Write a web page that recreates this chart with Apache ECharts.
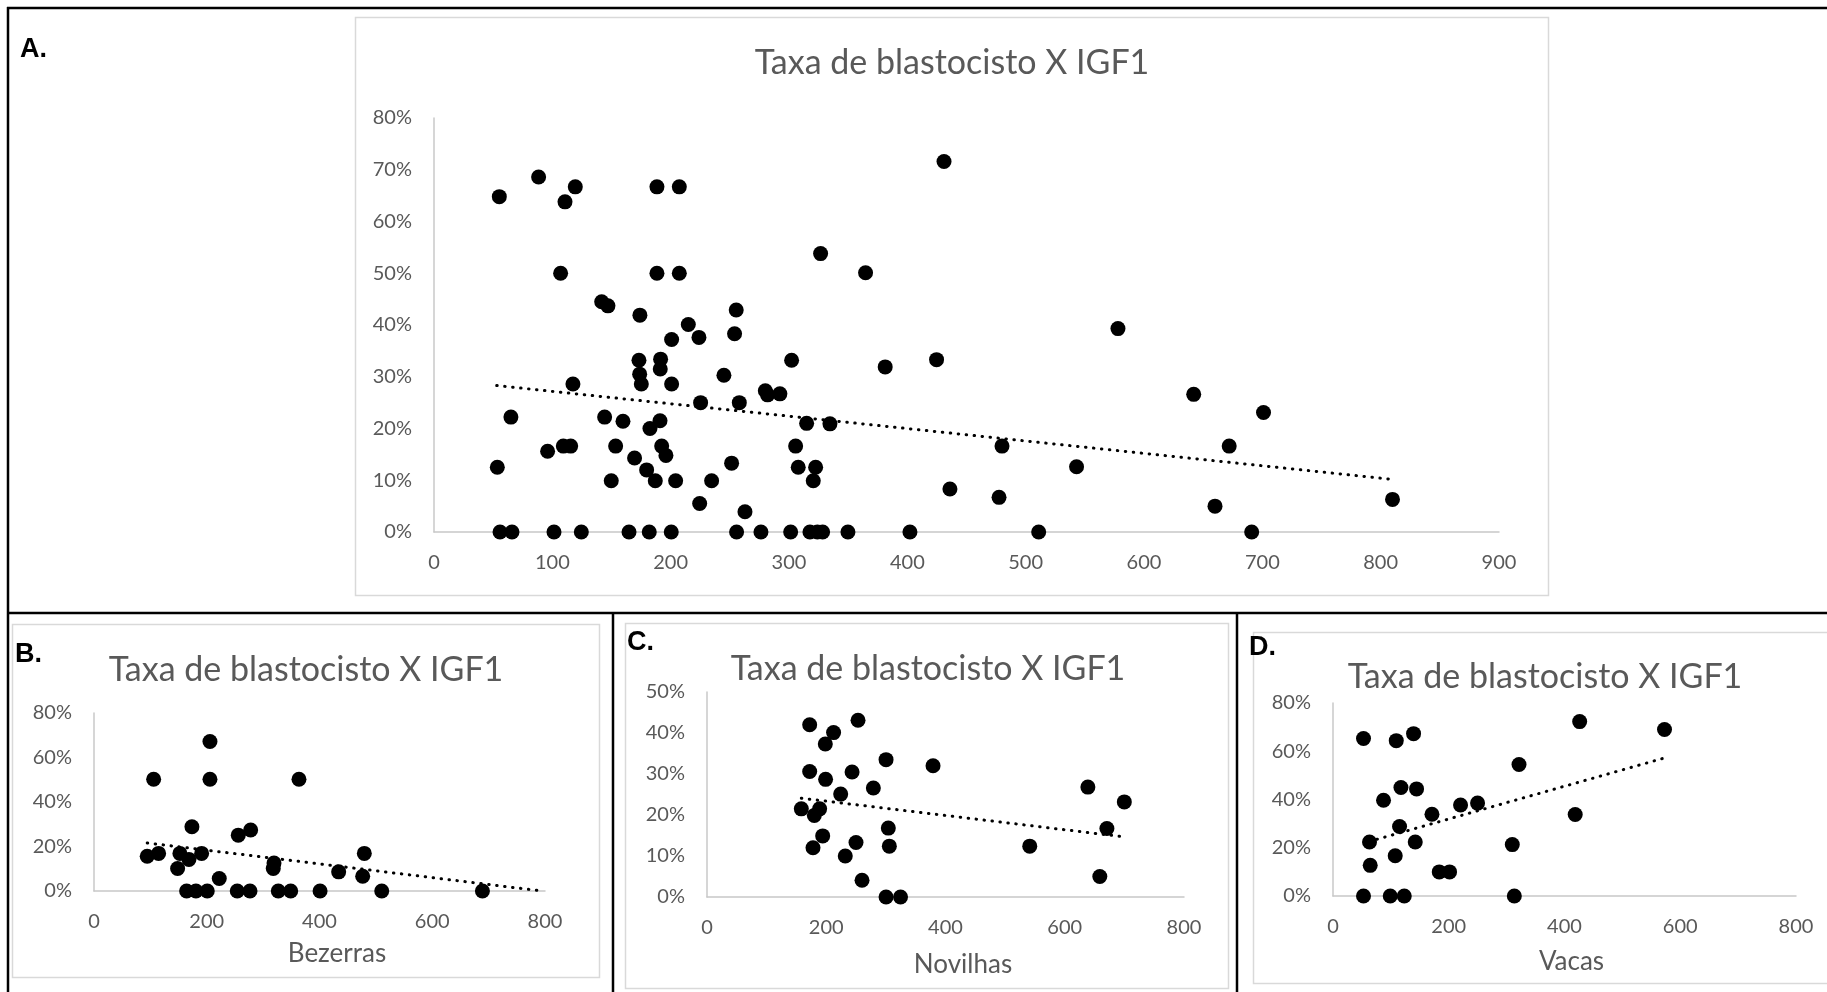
<!DOCTYPE html>
<html>
<head>
<meta charset="utf-8">
<script src="https://cdn.jsdelivr.net/npm/echarts@6/dist/echarts.min.js"></script>
<style>
html,body{margin:0;padding:0;background:#fff;}
#c{width:1827px;height:992px;}
</style>
</head>
<body>
<div id="c"></div>
<script>
// ---- DATA (IGF1 x, blastocyst rate %) ----
const tituloGrafico = 'Taxa de blastocisto X IGF1';
const paineis = ['A.', 'B.', 'C.', 'D.'];
const nomesEixoX = ['', 'Bezerras', 'Novilhas', 'Vacas'];

const todos = [
  [55.2,64.8],[88.4,68.6],[119.4,66.7],[110.7,63.8],[188.4,66.7],[207.3,66.7],[431,71.6],
  [107,50],[188.4,50],[207.3,50],[364.7,50.1],[326.7,53.8],
  [141.7,44.5],[147,43.7],[255.4,42.9],[174,41.9],[214.9,40.1],[578,39.3],
  [254,38.3],[200.8,37.2],[223.9,37.6],
  [173.2,33.2],[191.5,33.4],[302.2,33.2],[424.7,33.3],[191.2,31.5],[381.3,31.9],[173.8,30.5],[245,30.3],
  [175.2,28.6],[117.4,28.6],[200.8,28.6],[280,27.3],[281.9,26.5],[292.3,26.7],[642,26.6],
  [225.3,25],[258,25],[701,23.1],
  [65,22.2],[144.2,22.2],[159.7,21.4],[191,21.5],[314.9,21],[334.6,20.9],[182.5,20],
  [96,15.6],[109.3,16.6],[115.5,16.6],[153.5,16.6],[192.4,16.6],[305.6,16.6],[480,16.6],[672,16.6],
  [196,14.8],[169.5,14.3],[251.5,13.3],
  [53.5,12.5],[307.8,12.5],[322.5,12.5],[543,12.6],[179.7,12],
  [149.8,9.9],[187,9.9],[204.2,9.9],[234.6,9.9],[320.5,9.9],
  [436,8.3],[477.5,6.7],[810,6.3],[224.5,5.5],[660,5],[262.8,3.9],
  [55.8,0],[65.9,0],[101.4,0],[124.5,0],[164.8,0],[181.9,0],[200.5,0],[255.7,0],[276.3,0],
  [301.4,0],[317.7,0],[324,0],[328.4,0],[349.8,0],[402.2,0],[511,0],[691,0]
];
const bezerras = [
  [105.8,50.2],[205.7,67.2],[205.7,50.2],[363.6,50.2],[173.7,28.9],[255.9,25.1],[277.9,27.4],
  [94.4,15.6],[114.6,16.9],[152.4,16.9],[168.4,14.2],[190.9,16.9],[148.3,10.1],[222.2,5.6],
  [319.3,12.6],[318,10.1],[479.5,16.9],[434,8.6],[476.6,6.6],
  [164.3,0],[180.8,0],[200.9,0],[254.1,0],[276.7,0],[326.9,0],[348.9,0],[401,0],[510.4,0],[689,0]
];
const novilhas = [
  [172.2,42],[253.3,43.1],[212.3,40.1],[198.4,37.3],[300.3,33.5],[379.1,32],[172.2,30.6],[243.3,30.5],
  [198.9,28.7],[279,26.6],[224.2,25.1],[158.2,21.5],[188.9,21.5],[180,19.9],[194,14.9],[304.1,16.8],
  [177.8,12],[249.9,13.3],[305.8,12.4],[231.9,10],[260,4.1],[300.3,0],[324.6,0],
  [638.8,26.8],[699.9,23.2],[670.7,16.7],[541.3,12.4],[658.8,5]
];
const vacas = [
  [52.7,65.3],[109.3,64.4],[139.2,67.3],[426.2,72.3],[572.8,69],[321.4,54.5],[117.4,45],[144.4,44.4],
  [87.3,39.7],[220.4,37.7],[249.8,38.5],[171,33.9],[418.5,33.8],[115,28.8],[63.1,22.4],[142.1,22.4],
  [309.8,21.3],[107.5,16.7],[64.3,12.7],[183.6,10],[201.4,10],[52.7,0],[98.9,0],[123.1,0],[313.3,0]
];
// trend lines (end points)
const tendTodos = [[53,28.3],[808.5,10.2]];
const tendBezerras = [[94.4,21.6],[795,0]];
const tendNovilhas = [[158.2,24.1],[692,14.8]];
const tendVacas = [[75.9,23.5],[569.5,57]];
// axis ranges / tick steps
const xMax = [900, 800, 800, 800];
const xStep = [100, 200, 200, 200];
const yMax = [80, 80, 50, 80];
const yStep = [10, 20, 10, 20];

// ---- CHART ----
const chart = echarts.init(document.getElementById('c'), null, {renderer: 'canvas'});
const FONT = 'Lato, "Open Sans", sans-serif';
const GREY = '#595959';

const grids = [
  {left: 434, top: 118, width: 1065, height: 414},
  {left: 94, top: 713, width: 451, height: 178},
  {left: 707, top: 692, width: 477, height: 205},
  {left: 1333, top: 703, width: 463, height: 193}
];
const nameGaps = [0, 50, 55, 53];
const namePad = [0, 35, 35, 14];

const xAxes = grids.map((g, i) => ({
  gridIndex: i, type: 'value', min: 0, max: xMax[i], interval: xStep[i],
  name: nomesEixoX[i], nameLocation: 'middle', nameGap: nameGaps[i],
  nameTextStyle: {fontFamily: FONT, fontSize: 26, color: GREY, padding: [0, 0, 0, namePad[i]]},
  axisLine: {show: true, onZero: false, lineStyle: {color: '#c8c8c8', width: 1.5}},
  axisTick: {show: false}, splitLine: {show: false},
  axisLabel: {margin: 21, fontFamily: FONT, fontSize: 20, color: GREY}
}));
const yAxes = grids.map((g, i) => ({
  gridIndex: i, type: 'value', min: 0, max: yMax[i], interval: yStep[i],
  axisLine: {show: true, onZero: false, lineStyle: {color: '#c8c8c8', width: 1.5}},
  axisTick: {show: false}, splitLine: {show: false},
  axisLabel: {margin: 22, fontFamily: FONT, fontSize: 20, color: GREY, formatter: '{value}%'}
}));

const pontos = [todos, bezerras, novilhas, vacas];
const tends = [tendTodos, tendBezerras, tendNovilhas, tendVacas];
const series = [];
pontos.forEach((d, i) => {
  series.push({
    type: 'scatter', xAxisIndex: i, yAxisIndex: i, data: d,
    symbol: 'circle', symbolSize: 15, itemStyle: {color: '#000', opacity: 1}, silent: true, z: 3
  });
  series.push({
    type: 'line', xAxisIndex: i, yAxisIndex: i, data: tends[i],
    symbol: 'none', silent: true, z: 4,
    lineStyle: {color: '#000', width: 3, type: [0.5, 7.5], cap: 'round', opacity: 1}
  });
});

const frames = [
  [355, 17, 1193, 578],
  [12, 624, 587, 353],
  [625, 623, 603, 365],
  [1253, 632, 580, 351]
];
const titlePos = [[952, 63], [306, 670], [928, 669], [1545, 677]];
const panelPos = [[20, 50], [15, 655], [627, 643], [1249, 648]];

const graphic = [];
frames.forEach(f => graphic.push({
  type: 'rect', shape: {x: f[0] + 0.5, y: f[1] + 0.5, width: f[2], height: f[3]},
  style: {fill: 'none', stroke: '#d9d9d9', lineWidth: 1.5}, silent: true, z: -1
}));
const bl = [
  [7, 8, 1827, 8], [8, 7, 8, 992], [7, 613, 1827, 613], [613, 613, 613, 992], [1237, 613, 1237, 992]
];
bl.forEach(l => graphic.push({
  type: 'line', shape: {x1: l[0], y1: l[1], x2: l[2], y2: l[3]},
  style: {stroke: '#000', lineWidth: 2.5}, silent: true, z: 10
}));
titlePos.forEach(p => graphic.push({
  type: 'text', x: p[0], y: p[1], silent: true,
  style: {text: tituloGrafico, fontFamily: FONT, fontSize: 34, fontWeight: 400, fill: GREY,
    align: 'center', verticalAlign: 'middle', textAlign: 'center', textVerticalAlign: 'middle'}
}));
panelPos.forEach((p, i) => graphic.push({
  type: 'text', x: p[0], y: p[1], silent: true,
  style: {text: paineis[i], fontFamily: '"Liberation Sans", Arial, sans-serif', fontSize: 27, fontWeight: 'bold', fill: '#000',
    align: 'left', verticalAlign: 'middle', textAlign: 'left', textVerticalAlign: 'middle'}
}));

chart.setOption({
  animation: false,
  backgroundColor: '#fff',
  grid: grids.map(g => Object.assign({containLabel: false}, g)),
  xAxis: xAxes,
  yAxis: yAxes,
  series: series,
  graphic: graphic
});
</script>
</body>
</html>
